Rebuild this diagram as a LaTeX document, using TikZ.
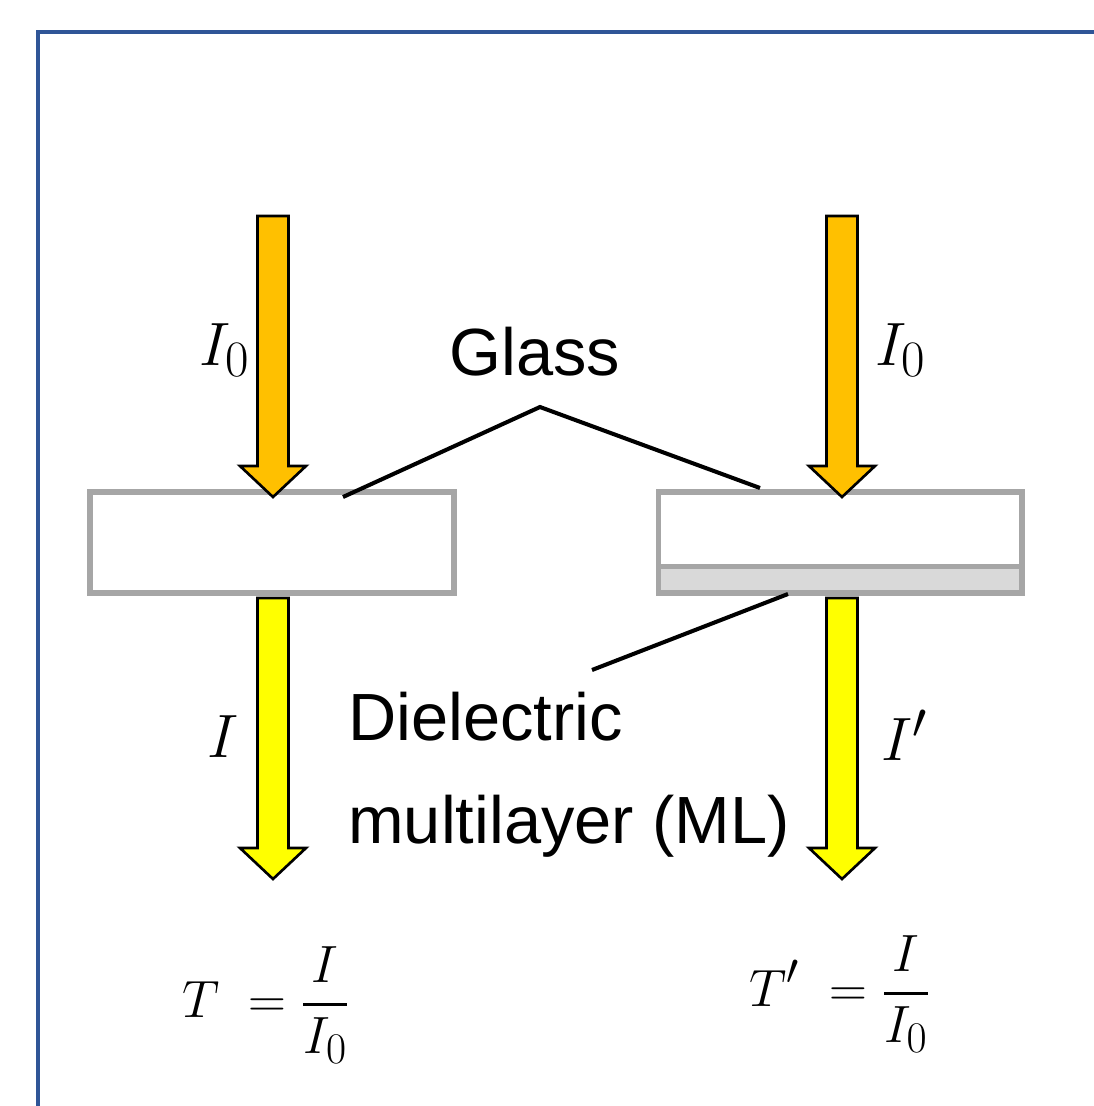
\documentclass[tikz,border=0pt]{standalone}
\usepackage{amsmath}
\usepackage{graphicx}
\usepackage{fontspec}
\setmainfont{Liberation Sans}
\definecolor{frameblue}{HTML}{2F5597}
\definecolor{glassgray}{HTML}{A6A6A6}
\definecolor{mlgray}{HTML}{D9D9D9}
\definecolor{inorange}{HTML}{FFC000}
\definecolor{outyellow}{HTML}{FFFF00}
\newcommand{\bigmath}[2]{\scalebox{#1}{\fontsize{24.88}{30}\selectfont$#2$}}
\tikzset{
  px/.style={x=0.02cm,y=-0.02cm},
  framestyle/.style={draw=frameblue,line width=2.3pt},
  glassbox/.style={draw=glassgray,line width=3.4pt},
  beam/.style={draw=black,line width=1.5pt,line join=miter},
  leader/.style={draw=black,line width=2.3pt},
  lbl/.style={font=\fontsize{38}{46}\selectfont,inner sep=0pt},
  mlbl/.style={inner sep=0pt}
}
\begin{document}
\begin{tikzpicture}[px]
\useasboundingbox (0,0) rectangle (1094,1106);
% frame
\draw[framestyle] (38,1110) -- (38,32) -- (1100,32);
% glass boxes
\node[glassbox,minimum width=363.5*0.02cm,minimum height=101*0.02cm,inner sep=0pt] (gl) at (272,542.5) {};
\draw[glassbox,fill=mlgray] (658.5,566.5) rectangle (1022,593);
\node[glassbox,minimum width=363.5*0.02cm,minimum height=101*0.02cm,inner sep=0pt] (gr) at (840.25,542.5) {};
% incoming and outgoing beams
\foreach \cx in {273,842}{
  \filldraw[beam,fill=inorange] (\cx-15.5,216) -- (\cx+15.5,216) -- (\cx+15.5,466) -- (\cx+33,466) -- (\cx,497) -- (\cx-33,466) -- (\cx-15.5,466) -- cycle;
  \filldraw[beam,fill=outyellow] (\cx-15.5,598) -- (\cx+15.5,598) -- (\cx+15.5,848) -- (\cx+33,848) -- (\cx,879) -- (\cx-33,848) -- (\cx-15.5,848) -- cycle;
}
% labels
\node[mlbl] (i0l) at (225,350) {\bigmath{1.4}{I_0}};
\node[mlbl] (i0r) at (901,350) {\bigmath{1.4}{I_0}};
\node[mlbl] (il) at (223,737) {\bigmath{1.4}{I}};
\node[mlbl] (ir) at (905,735) {\bigmath{1.4}{I'}};
\node[lbl] (glass) at (535,352) {Glass};
\node[lbl,anchor=west] (diel) at (348,717) {Dielectric};
\node[lbl,anchor=west] (mult) at (348,826) {multilayer (ML)};
% leader lines
\coordinate (gapex) at (540,407);
\coordinate (gla) at (343,497);
\coordinate (gra) at (760,488);
\coordinate (mla) at (788,594);
\coordinate (mlb) at (592,670);
\draw[leader] (gla) -- (gapex) -- (gra);
\draw[leader] (mla) -- (mlb);
% equations
\node[mlbl] (eql) at (266,1005) {\bigmath{1.2}{\displaystyle T\; = \frac{I}{I_0}}};
\node[mlbl] (eqr) at (840,994) {\bigmath{1.2}{\displaystyle T'\; = \frac{I}{I_0}}};
\end{tikzpicture}
\end{document}
